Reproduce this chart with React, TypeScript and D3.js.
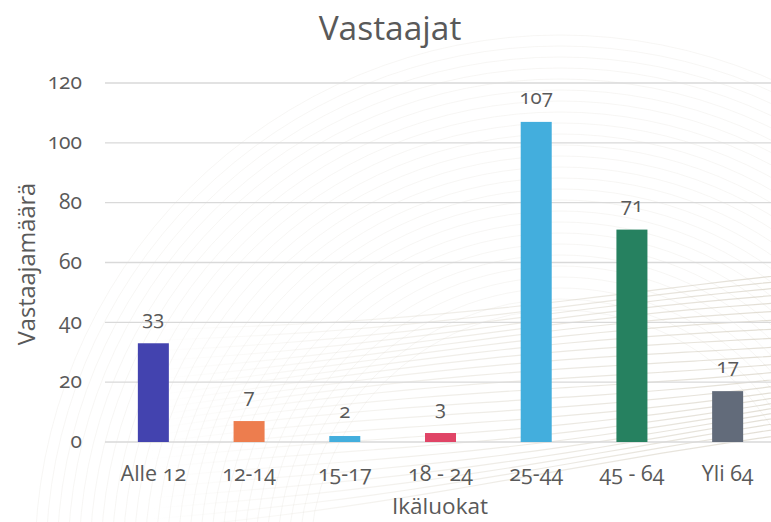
import React from "react";
import * as d3 from "d3";

// Respondents per age group
const categories = ["Alle 12", "12-14", "15-17", "18 - 24", "25-44", "45 - 64", "Yli 64"];
const values = [33, 7, 2, 3, 107, 71, 17];
const barColors = ["#4343AF", "#ED7D4E", "#43AEDD", "#E04466", "#43AEDD", "#268160", "#626B7A"];
const yTicks = [0, 20, 40, 60, 80, 100, 120];

const W = 771;
const H = 522;
const FONT = "'Open Sans', Lato, sans-serif";
const TEXT = "#595959";
const ONUM = { fontVariantNumeric: "oldstyle-nums" } as const;

export default function App() {
  const y = d3.scaleLinear().domain([0, 120]).range([442, 83]);
  const x = d3.scaleBand<string>().domain(categories).range([105.5, 775.5]).padding(0);
  const barW = x.bandwidth() * 0.324;
  const cx = (c: string) => (x(c) as number) + x.bandwidth() / 2;

  // faint decorative background swirl
  const rings = d3.range(0, 26).map((i) => 250 + i * 11);
  const waves = d3.range(0, 24);
  const wavePath = (i: number) => {
    const pts = d3.range(0, 1.0001, 0.05).map(
      (t) =>
        [
          150 + t * 640,
          330 + i * 8.5 - t * (50 + i * 1.5) + Math.sin(t * Math.PI * 1.3 + i * 0.3) * 7,
        ] as [number, number]
    );
    return d3.line().curve(d3.curveBasis)(pts) || "";
  };

  return (
    <svg width={W} height={H} style={{ position: "absolute", left: 0, top: 0 }}>
      <defs>
        <linearGradient id="waveFade" x1="150" x2="790" y1="0" y2="0" gradientUnits="userSpaceOnUse">
          <stop offset="0" stopColor="#d6d0c2" stopOpacity={0} />
          <stop offset="0.45" stopColor="#d6d0c2" stopOpacity={0.35} />
          <stop offset="1" stopColor="#cfc8b8" stopOpacity={0.6} />
        </linearGradient>
      </defs>
      <rect width={W} height={H} fill="#ffffff" />
      <g fill="none" stroke="#e9e6df" strokeOpacity={0.35} strokeWidth={1}>
        {rings.map((r) => (
          <circle key={r} cx={560} cy={560} r={r} />
        ))}
      </g>
      <g fill="none" stroke="url(#waveFade)" strokeWidth={1.2}>
        {waves.map((i) => (
          <path key={i} d={wavePath(i)} />
        ))}
      </g>

      <text x={390} y={40} textAnchor="middle" fontFamily={FONT} fontSize={33.5} fill={TEXT}>
        Vastaajat
      </text>

      {/* gridlines */}
      <g stroke="#d9d9d9" strokeWidth={1.3}>
        {yTicks.map((t) => (
          <line key={t} x1={105} x2={W} y1={y(t)} y2={y(t)} />
        ))}
      </g>

      {/* y tick labels */}
      <g fontFamily={FONT} fontSize={21} fill={TEXT} style={ONUM}>
        {yTicks.map((t) => (
          <text key={t} x={82} y={y(t)} dy="0.3em" textAnchor="end">
            {t}
          </text>
        ))}
      </g>

      {/* bars */}
      {categories.map((c, i) => (
        <rect
          key={c}
          x={cx(c) - barW / 2}
          y={y(values[i])}
          width={barW}
          height={y(0) - y(values[i])}
          fill={barColors[i]}
        />
      ))}

      {/* value labels */}
      <g fontFamily={FONT} fontSize={20.5} fill={TEXT} textAnchor="middle" style={ONUM}>
        {categories.map((c, i) => (
          <text key={c} x={cx(c)} y={y(values[i]) - 18}>
            {values[i]}
          </text>
        ))}
      </g>

      {/* category labels */}
      <g fontFamily={FONT} fontSize={21.5} fill={TEXT} textAnchor="middle" style={ONUM}>
        {categories.map((c) => (
          <text key={c} x={cx(c)} y={481}>
            {c}
          </text>
        ))}
      </g>

      {/* axis titles */}
      <text x={440} y={514} textAnchor="middle" fontFamily={FONT} fontSize={22.5} fill={TEXT}>
        Ikäluokat
      </text>
      <text
        transform="translate(35,264) rotate(-90)"
        textAnchor="middle"
        fontFamily={FONT}
        fontSize={23.5}
        fill={TEXT}
      >
        Vastaajamäärä
      </text>
    </svg>
  );
}
